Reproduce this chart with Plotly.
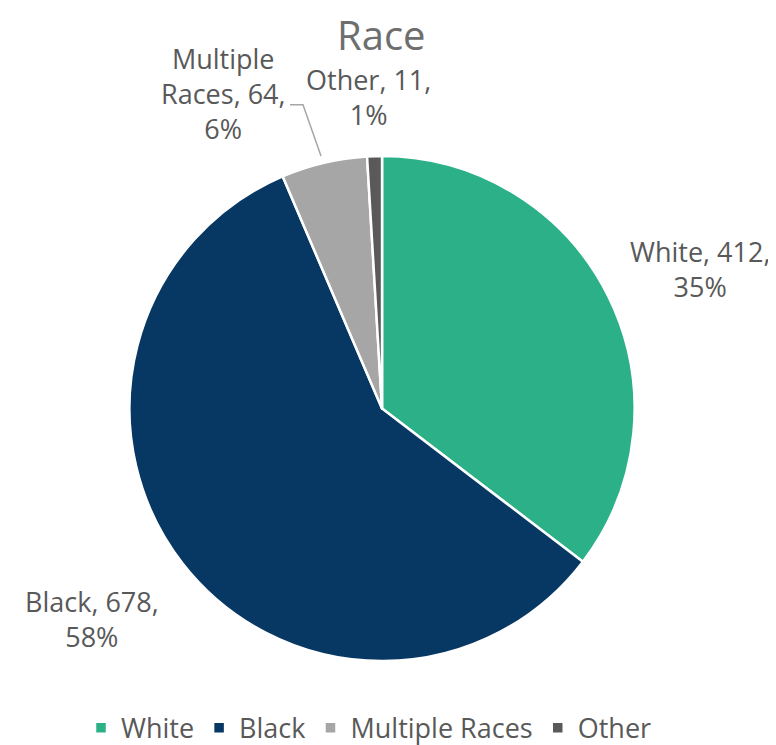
import plotly.graph_objects as go

categories = ["White", "Black", "Multiple Races", "Other"]
counts = [412, 678, 64, 11]
pct_labels = ["35%", "58%", "6%", "1%"]
colors = ["#2BB087", "#073763", "#A6A6A6", "#595959"]

# label texts built from the data arrays
def make_label(cat, n, pct):
    if cat == "Multiple Races":
        return f"Multiple<br>Races, {n},<br>{pct}"
    return f"{cat}, {n},<br>{pct}"

label_text = [make_label(c, n, p) for c, n, p in zip(categories, counts, pct_labels)]

W, H = 776, 745
# label anchor positions (pixel centres of the label blocks)
label_pos = [(692, 265), (84, 619), (215, 87), (360, 90)]

fig = go.Figure(go.Pie(
    labels=categories,
    values=counts,
    textinfo="none",
    sort=False,
    direction="clockwise",
    rotation=0,
    marker=dict(colors=colors, line=dict(color="white", width=2.5)),
    domain=dict(x=[0.1521, 0.8119], y=[0.1114, 0.7987]),
    hoverinfo="label+value+percent",
))

annotations = []
for txt, (px, py) in zip(label_text, label_pos):
    annotations.append(dict(
        text=txt, x=px / W, y=1 - py / H, xref="paper", yref="paper",
        xanchor="center", yanchor="middle", showarrow=False, align="center",
        font=dict(size=27, color="#595959", family="Open Sans"),
    ))
annotations.append(dict(
    text="Race", x=373 / W, y=1 - 27 / H, xref="paper", yref="paper",
    xanchor="center", yanchor="middle", showarrow=False,
    font=dict(size=40, color="#6E6E6E", family="Open Sans"),
))

# leader line for the Multiple Races label
shapes = [dict(
    type="path", xref="paper", yref="paper",
    path=f"M {282/W},{1-98/H} L {295/W},{1-98/H} L {313/W},{1-150/H}",
    line=dict(color="#A6A6A6", width=1.5),
)]

fig.update_layout(
    width=W, height=H,
    margin=dict(l=0, r=0, t=0, b=0),
    paper_bgcolor="white",
    plot_bgcolor="white",
    annotations=annotations,
    shapes=shapes,
    legend=dict(orientation="h", x=361 / W, xanchor="center", y=1 - 730 / H, yanchor="middle",
                font=dict(size=27, color="#595959", family="Open Sans"),
                itemwidth=30, traceorder="normal", bgcolor="rgba(0,0,0,0)"),
    showlegend=True,
)

fig.write_html("out.html")
